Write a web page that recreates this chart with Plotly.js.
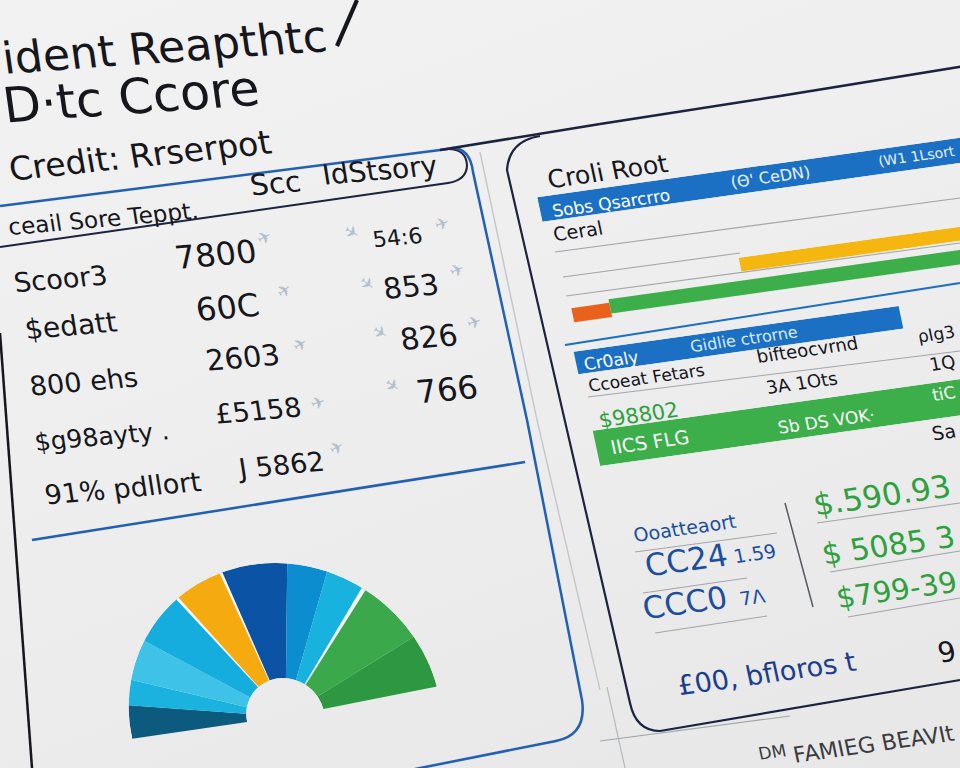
<!DOCTYPE html>
<html><head><meta charset="utf-8">
<script src="https://cdn.plot.ly/plotly-3.0.1.min.js"></script>
<style>
html,body{margin:0;padding:0;width:960px;height:768px;overflow:hidden;
 background:linear-gradient(160deg,#f2f2f2 0%,#ededed 55%,#e7e7e7 100%);}
#chart{position:absolute;left:-120px;top:-116px;width:1200px;height:1000px;
 transform-origin:50% 50%;transform:rotate(-8deg) skewX(4deg);}
</style></head><body><div id="chart"></div>
<script>
// ---------------- DATA ----------------
const fanSegments = ['Account age','Inquiries','New credit','Credit mix','Utilization','Payment history','Balances','Limits','On-time','Positive'];
const fanShares   = [12.6, 9.6, 15.7, 20.7, 19.3, 24.9, 14.8, 14.5, 25, 20];

const barRows  = ['Score band','Utilization','History','Category','Status'];
const segRow   = ['Score band','Utilization','History','History','Category','Status'];
const segStart = [0, 41.1, 2.3, 10.8, 0.8, 1.3];
const segEnd   = [100, 100, 10.8, 100, 73.7, 100];

const leftLabels  = ['Scoor3','$edatt','800 ehs','$g98ayty .','91% pdllort'];
const midValues   = ['7800','60C','2603','£5158','J 5862'];
const rightValues = ['54:6','853','826','766'];
const greenValues = ['$.590.93','$ 5085 3','$799-39'];
const blueCodes   = ['CC24','CCC0'];
const blueCodeSuffix = ['1.59','7Λ'];

// ---------------- GEOMETRY (photo perspective) ----------------
const ROT=-8, SKEW=4, W=1200, H=1000, CX=480, CY=384;
const th=ROT*Math.PI/180, kk=Math.tan(SKEW*Math.PI/180);
const c=Math.cos(th), s=Math.sin(th);
const m00=c, m01=c*kk - s, m10=s, m11=s*kk + c, det=m00*m11-m01*m10;
function D(sx,sy){const dx=sx-CX, dy=sy-CY;
  return [W/2+( m11*dx - m01*dy)/det, H/2+(-m10*dx + m00*dy)/det];}
function P(sx,sy){const d=D(sx,sy);return [d[0]/W, 1-d[1]/H];}
function pt(x,y){const p=P(x,y);return p[0].toFixed(5)+','+p[1].toFixed(5);}

const FONT='DejaVu Sans, Verdana, sans-serif';
const BLACK='#15171c', NAVY='#1c2340', BLUE_LINE='#2160b2', BAR_BLUE='#1b70c4',
      TEXT_BLUE='#1c4e9e', TEXT_GREEN='#2fa040', GRAY='#a2a6ab';

// ---------------- TRACES ----------------
const traces=[];
const fanColors=['#0c5a7e','#1ab3df','#3fc2e8','#14addd','#f5aa10','#0b53a4','#0b8dcf','#18b2df','#3ba94b','#2d9841'];
const cum=[];let acc=0;fanShares.forEach(v=>{cum.push(acc+v/2);acc+=v;});
traces.push({type:'barpolar',r:fanShares.map(()=>1),theta:cum,width:fanShares,
  text:fanSegments,marker:{color:fanColors,line:{width:0}},hoverinfo:'text',subplot:'polar'});
const ends=[];acc=0;fanShares.forEach(v=>{acc+=v;ends.push(acc);});
const gapAt=[3,4,7];
traces.push({type:'barpolar',r:gapAt.map(()=>1),theta:gapAt.map(i=>ends[i]),
  width:[1.1,1.1,1.6],marker:{color:'#f6f6f6',line:{width:0}},hoverinfo:'skip',subplot:'polar'});

const segColor=['#1b70c4','#f5b70f','#e9621c','#3cae4a','#1b70c4','#3cae4a'];
segRow.forEach((row,i)=>{
  const ax=barRows.indexOf(row);
  traces.push({type:'bar',orientation:'h',y:[row],x:[segEnd[i]-segStart[i]],base:[segStart[i]],
    width:1,marker:{color:segColor[i],line:{width:0}},xaxis:'x',yaxis: ax===0?'y':'y'+(ax+1),hoverinfo:'skip'});
});

// ---------------- LAYOUT ----------------
const layout={width:W,height:H,margin:{l:0,r:0,t:0,b:0},
  paper_bgcolor:'rgba(0,0,0,0)',plot_bgcolor:'rgba(0,0,0,0)',showlegend:false,
  font:{family:FONT}};
(function(){const d=D(285.5,716.5),R=155;
  layout.polar={domain:{x:[(d[0]-R)/W,(d[0]+R)/W],y:[1-(d[1]+R)/H,1-(d[1]-R)/H]},
    hole:0.25,bgcolor:'rgba(0,0,0,0)',
    radialaxis:{visible:false,range:[0,1]},
    angularaxis:{visible:false,direction:'clockwise',rotation:180.3}};})();
layout.xaxis={domain:[695/W,1145/W],range:[0,100],visible:false,anchor:'y',fixedrange:true};
const rowBands=[[323,348],[411,425],[434,452],[481,504],[562,598]];
rowBands.forEach((b,i)=>{
  layout[i===0?'yaxis':'yaxis'+(i+1)]={domain:[1-b[1]/H,1-b[0]/H],range:[-0.5,0.5],type:'category',
    visible:false,anchor:'x',fixedrange:true};
});

const shapes=[];
function line(pts,color,width,layer){
  for(let i=1;i<pts.length;i++){const a=P(pts[i-1][0],pts[i-1][1]), b=P(pts[i][0],pts[i][1]);
    shapes.push({type:'line',xref:'paper',yref:'paper',x0:a[0],y0:a[1],x1:b[0],y1:b[1],
      line:{color,width},layer:layer||'above'});}}
function rawPath(d,color,width,layer){shapes.push({type:'path',xref:'paper',yref:'paper',path:d,line:{color,width},layer:layer||'above'});}

line([[337,46],[357,0]],BLACK,4);
line([[0,206],[448,149]],BLUE_LINE,2.5);
rawPath(`M${pt(0,247)} L${pt(448,183)} Q${pt(467,180)} ${pt(467,165)} Q${pt(466,149)} ${pt(448,149)}`,NAVY,2);
rawPath(`M${pt(452,148)} Q${pt(470,148)} ${pt(473,172)} L${pt(527,420)} L${pt(582,700)} Q${pt(587,735)} ${pt(556,741)} L${pt(400,772)}`,BLUE_LINE,2.5);
line([[480,152],[537,420],[600,690]],'#c4c8cd',1.5);
line([[607,687],[625,768]],'#b4b8bc',1.2);
line([[440,150],[600,124],[780,96],[965,66]],NAVY,2.5);
rawPath(`M${pt(540,136)} Q${pt(509,141)} ${pt(507,170)} L${pt(630,703)} Q${pt(636,731)} ${pt(660,731)} L${pt(960,680)}`,NAVY,2.2);
line([[32,540],[525,462]],BLUE_LINE,2.5);
line([[0,333],[32,768]],BLACK,2.5);
[[[555,252],[960,198]],[[563,277],[740,253]],[[566,296],[960,243]],[[588,397],[960,351]],
 [[635,552],[777,533]],[[643,593],[747,578]],[[655,633],[767,616]],
 [[817,523],[960,503]],[[830,572],[960,551]],[[848,617],[960,598]],[[600,741],[790,716]]]
 .forEach(l=>line(l,GRAY,1.1,'below'));
line([[565,345],[960,283]],BAR_BLUE,2);
line([[785,503],[813,607]],'#555a60',1.5);
layout.shapes=shapes;

const anns=[];
function ann(text,sx,sy,size,color,angle){const p=P(sx,sy);
  anns.push({xref:'paper',yref:'paper',x:p[0],y:p[1],xanchor:'center',yanchor:'middle',
    text,showarrow:false,textangle:angle||0,font:{family:FONT,size,color}});}
ann('ident Reapthtc',165,47,44,BLACK,4);
ann('D·tc Ccore',131,97,49,BLACK,4);
ann('Credit: Rrserpot',140,156,33,BLACK,2);
ann('ceail Sore Teppt.',103,219,23,BLACK,3);
ann('Scc',275,184,29,BLACK,3);
ann('IdStsory',380,170,28,BLACK,3);
const labelPos=[[60,279,27],[71,326,28],[84,382,27],[102,437,25],[123,488,27]];
const midPos=[[215,255,32],[228,307,32],[243,358,29],[258,411,27],[280,465,27]];
const rightPos=[[397,238,22],[411,287,29],[429,337,30],[447,390,32]];
leftLabels.forEach((t,i)=>ann(t,labelPos[i][0],labelPos[i][1],labelPos[i][2],BLACK,3));
midValues.forEach((t,i)=>ann(t,midPos[i][0],midPos[i][1],midPos[i][2],BLACK,3));
rightValues.forEach((t,i)=>ann(t,rightPos[i][0],rightPos[i][1],rightPos[i][2],BLACK,3));
[[264,238,-20],[352,232,40],[442,224,-10],[284,290,-30],[367,284,50],[457,270,-15],
 [300,345,-25],[380,332,40],[474,322,-10],[392,385,45],[318,403,-10],[337,448,-20]]
 .forEach(m=>ann('✈',m[0],m[1],17,'#b3bfcc',m[2]));
ann('Croli Root',608,172,25,BLACK,0);
ann('Sobs Qsarcrro',611,203,17,'#ffffff',0);
ann("(Θ' CeDN)",771,177,16,'#e8f2fb',0);
ann('(W1 1Lsort',916,156,14,'#e8f2fb',0);
ann('Ceral',578,231,19,BLACK,0);
ann('Gidlie ctrorne',744,339,16,'#d9eaf8',0);
ann('Cr0aly',611,361,17,'#ffffff',0);
ann('ρIg3',936,334,17,BLACK,0);
ann('Ccoeat Fetars',646,378,17,BLACK,0);
ann('bifteocvrnd',807,350,18,BLACK,0);
ann('3A 1Ots',802,383,18,BLACK,0);
ann('1Q',943,363,18,BLACK,0);
ann('$98802',639,415,21,TEXT_GREEN,0);
ann('IICS FLG',650,442,19,'#ffffff',0);
ann('Sb DS VOK·',826,421,17,'#ffffff',0);
ann('tiC',944,394,17,'#ffffff',0);
ann('Sa',944,432,19,BLACK,0);
ann('Ooatteaort',685,528,19,TEXT_BLUE,0);
ann(blueCodes[0],686,560,31,TEXT_BLUE,0);
ann(blueCodeSuffix[0],755,553,19,TEXT_BLUE,0);
ann(blueCodes[1],685,603,31,TEXT_BLUE,0);
ann(blueCodeSuffix[1],752,597,19,TEXT_BLUE,0);
ann('£00, bfloros t',767,673,27,'#1c3d8c',0);
const greenPos=[[882,495,31],[889,545,30],[897,590,29]];
greenValues.forEach((t,i)=>ann(t,greenPos[i][0],greenPos[i][1],greenPos[i][2],TEXT_GREEN,0));
ann('9',947,652,28,BLACK,0);
ann('FAMIEG BEAVIt',874,744,22,'#3a3c40',0);
ann('DM',772,752,17,'#3a3c40',0);
layout.annotations=anns;

Plotly.newPlot('chart',traces,layout,{displayModeBar:false,staticPlot:true});
</script></body></html>
